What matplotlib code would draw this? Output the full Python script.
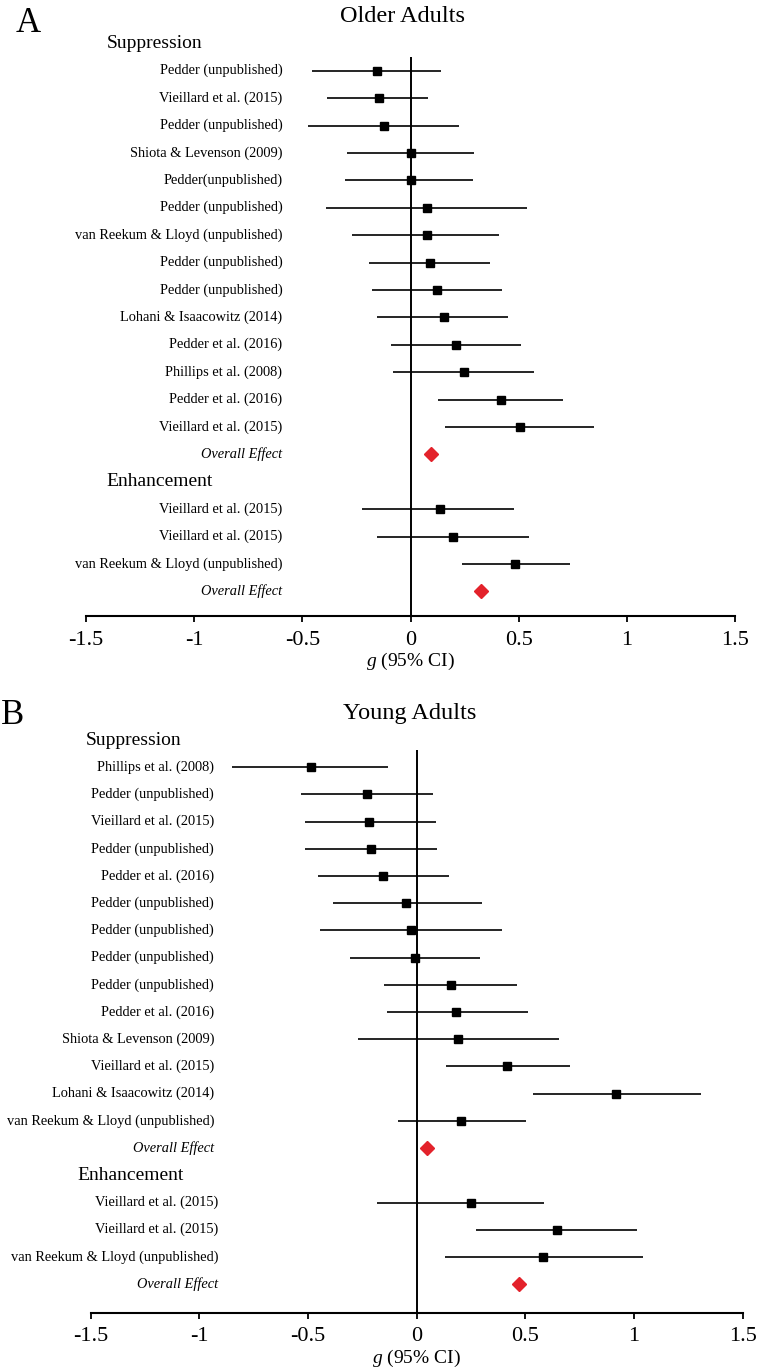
import matplotlib
matplotlib.use("Agg")
import matplotlib.pyplot as plt

plt.rcParams['font.family'] = ['Liberation Serif', 'DejaVu Serif']
plt.rcParams['mathtext.fontset'] = 'custom'
plt.rcParams['mathtext.it'] = 'Liberation Serif:italic'
plt.rcParams['mathtext.rm'] = 'Liberation Serif'
plt.rcParams['axes.unicode_minus'] = False

# ---------------- Data ----------------
older_supp_labels = ["Pedder (unpublished)", "Vieillard et al. (2015)", "Pedder (unpublished)",
                     "Shiota & Levenson (2009)", "Pedder(unpublished)", "Pedder (unpublished)",
                     "van Reekum & Lloyd (unpublished)", "Pedder (unpublished)", "Pedder (unpublished)",
                     "Lohani & Isaacowitz (2014)", "Pedder et al. (2016)", "Phillips et al. (2008)",
                     "Pedder et al. (2016)", "Vieillard et al. (2015)"]
older_supp_g = [-0.156, -0.146, -0.121, 0.000, 0.000, 0.075, 0.075, 0.092, 0.123, 0.157, 0.211, 0.249, 0.418, 0.504]
older_supp_lo = [-0.457, -0.385, -0.473, -0.295, -0.303, -0.391, -0.269, -0.191, -0.180, -0.156, -0.092, -0.080, 0.129, 0.161]
older_supp_hi = [0.141, 0.083, 0.226, 0.292, 0.291, 0.538, 0.410, 0.368, 0.422, 0.453, 0.513, 0.570, 0.703, 0.848]
older_supp_overall = 0.093

older_enh_labels = ["Vieillard et al. (2015)", "Vieillard et al. (2015)", "van Reekum & Lloyd (unpublished)"]
older_enh_g = [0.135, 0.198, 0.484]
older_enh_lo = [-0.222, -0.156, 0.237]
older_enh_hi = [0.480, 0.547, 0.735]
older_enh_overall = 0.328

young_supp_labels = ["Phillips et al. (2008)", "Pedder (unpublished)", "Vieillard et al. (2015)",
                     "Pedder (unpublished)", "Pedder et al. (2016)", "Pedder (unpublished)",
                     "Pedder (unpublished)", "Pedder (unpublished)", "Pedder (unpublished)",
                     "Pedder et al. (2016)", "Shiota & Levenson (2009)", "Vieillard et al. (2015)",
                     "Lohani & Isaacowitz (2014)", "van Reekum & Lloyd (unpublished)"]
young_supp_g = [-0.487, -0.229, -0.219, -0.209, -0.153, -0.047, -0.024, -0.008, 0.159, 0.183, 0.188, 0.415, 0.917, 0.203]
young_supp_lo = [-0.848, -0.532, -0.516, -0.516, -0.455, -0.383, -0.444, -0.309, -0.150, -0.137, -0.272, 0.134, 0.536, -0.088]
young_supp_hi = [-0.130, 0.077, 0.090, 0.093, 0.148, 0.300, 0.393, 0.292, 0.461, 0.510, 0.653, 0.705, 1.308, 0.504]
young_supp_overall = 0.047

young_enh_labels = ["Vieillard et al. (2015)", "Vieillard et al. (2015)", "van Reekum & Lloyd (unpublished)"]
young_enh_g = [0.251, 0.645, 0.582]
young_enh_lo = [-0.183, 0.272, 0.128]
young_enh_hi = [0.588, 1.015, 1.041]
young_enh_overall = 0.472

x_ticks = [-1.5, -1, -0.5, 0, 0.5, 1, 1.5]
x_tick_labels = ["-1.5", "-1", "-0.5", "0", "0.5", "1", "1.5"]

# ---------------- Figure ----------------
W, H = 759, 1371
fig = plt.figure(figsize=(W / 100, H / 100), dpi=100)

RED = '#E3222B'


def panel(rect, supp, enh, label_x, enh_label_x, head_x, enh_head_x, vtop, bottom_row):
    ax = fig.add_axes(rect)
    s_lab, s_g, s_lo, s_hi, s_ov = supp
    e_lab, e_g, e_lo, e_hi, e_ov = enh
    n = len(s_lab)
    s_rows = list(range(1, n + 1))
    s_ov_row = n + 1
    e_head_row = n + 2
    e_rows = list(range(n + 3, n + 3 + len(e_lab)))
    e_ov_row = e_rows[-1] + 1

    ax.set_xlim(-1.5, 1.5)
    ax.set_ylim(bottom_row, -1)

    ax.vlines(0, vtop, bottom_row, color='black', lw=1.4, zorder=1)

    for rows, g, lo, hi in ((s_rows, s_g, s_lo, s_hi), (e_rows, e_g, e_lo, e_hi)):
        ax.hlines(rows, lo, hi, color='black', lw=1.2, zorder=2)
        ax.plot(g, rows, 's', color='black', ms=5.2, zorder=3)
    ax.plot([s_ov, e_ov], [s_ov_row, e_ov_row], 'D', color=RED, ms=7, mec=RED, zorder=3)

    fs = 10.4
    for r, t in zip(s_rows, s_lab):
        ax.text(label_x, r, t, ha='right', va='center', fontsize=fs)
    for r, t in zip(e_rows, e_lab):
        ax.text(enh_label_x, r, t, ha='right', va='center', fontsize=fs)
    ax.text(label_x, s_ov_row, "Overall Effect", ha='right', va='center', fontsize=fs, style='italic')
    ax.text(enh_label_x, e_ov_row, "Overall Effect", ha='right', va='center', fontsize=fs, style='italic')
    ax.text(head_x, 0, "Suppression", ha='left', va='center', fontsize=14)
    ax.text(enh_head_x, e_head_row, "Enhancement", ha='left', va='center', fontsize=14)

    for side in ('left', 'right', 'top'):
        ax.spines[side].set_visible(False)
    ax.spines['bottom'].set_linewidth(1.5)
    ax.set_yticks([])
    ax.set_xticks(x_ticks)
    ax.set_xticklabels(x_tick_labels, fontsize=16)
    ax.tick_params(axis='x', direction='out', length=4, width=1.3, pad=6.5)
    ax.set_xlabel(r"$g$ (95% CI)", fontsize=14, labelpad=1)
    ax.patch.set_visible(False)
    return ax


# Panel A
axA = panel([86 / W, 1 - 616 / H, (735 - 86) / W, (616 - 15.9) / H],
            (older_supp_labels, older_supp_g, older_supp_lo, older_supp_hi, older_supp_overall),
            (older_enh_labels, older_enh_g, older_enh_lo, older_enh_hi, older_enh_overall),
            label_x=-0.592, enh_label_x=-0.592, head_x=-1.405, enh_head_x=-1.406,
            vtop=0.5, bottom_row=20.9)

# Panel B
axB = panel([90.7 / W, 1 - 1312.7 / H, (742.7 - 90.7) / W, (1312.7 - 712.8) / H],
            (young_supp_labels, young_supp_g, young_supp_lo, young_supp_hi, young_supp_overall),
            (young_enh_labels, young_enh_g, young_enh_lo, young_enh_hi, young_enh_overall),
            label_x=-0.932, enh_label_x=-0.913, head_x=-1.522, enh_head_x=-1.561,
            vtop=0.35, bottom_row=21.05)

fig.text(403 / W, 1 - 16 / H, "Older Adults", ha='center', va='center', fontsize=17.5)
fig.text(410 / W, 1 - 714 / H, "Young Adults", ha='center', va='center', fontsize=17.5)
fig.text(16 / W, 1 - 32 / H, "A", ha='left', va='baseline', fontsize=25)
fig.text(1 / W, 1 - 724 / H, "B", ha='left', va='baseline', fontsize=25)

fig.savefig("out.png", dpi=100)
